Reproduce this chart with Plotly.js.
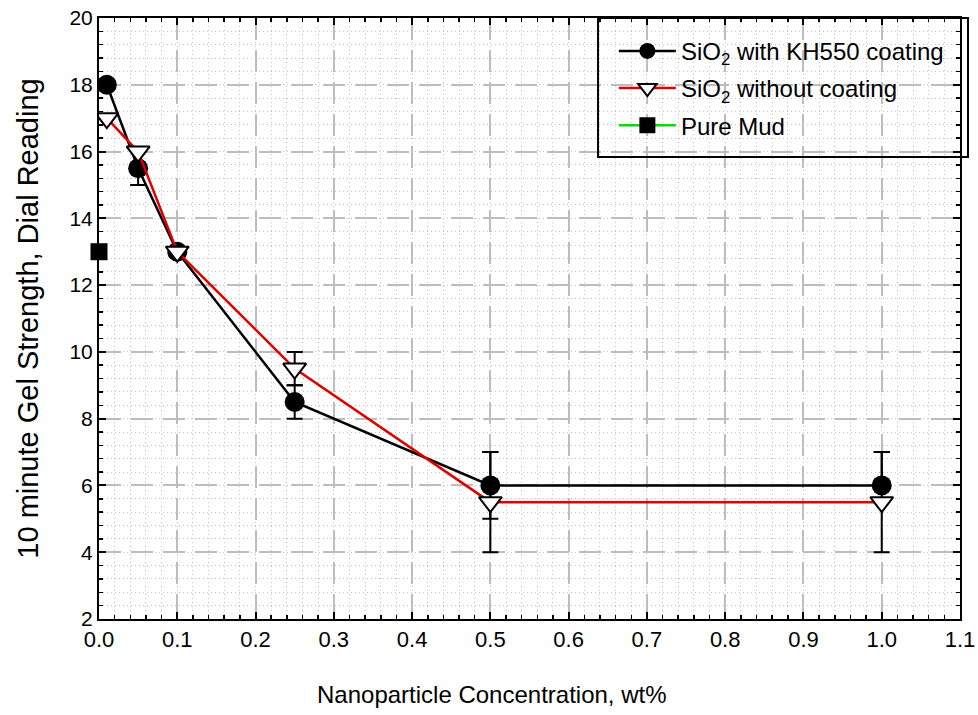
<!DOCTYPE html>
<html>
<head>
<meta charset="utf-8">
<script src="https://cdn.plot.ly/plotly-3.0.1.min.js"></script>
<style>html,body{margin:0;padding:0;background:#fff;}</style>
</head>
<body>
<div id="chart" style="width:978px;height:715px;"></div>
<script>
// ---- data ----
const concentration = [0.01, 0.05, 0.1, 0.25, 0.5, 1.0];
const coatedGel = [18, 15.5, 13, 8.5, 6, 6];
const coatedErrPlus = [0, 0.5, 0, 0.5, 1, 1];
const coatedErrMinus = [0, 0.5, 0, 0.5, 1, 0];
const uncoatedGel = [17, 16, 13, 9.5, 5.5, 5.5];
const uncoatedErrPlus = [0, 0, 0, 0.5, 1.5, 1.5];
const uncoatedErrMinus = [0, 0, 0, 0.5, 1.5, 1.5];
const pureMudX = [0];
const pureMudGel = [13];
const seriesNames = ['SiO<sub>2</sub> with KH550 coating', 'SiO<sub>2</sub> without coating', 'Pure Mud'];
const xTickVals = [0, 0.1, 0.2, 0.3, 0.4, 0.5, 0.6, 0.7, 0.8, 0.9, 1.0, 1.1];
const yTickVals = [2, 4, 6, 8, 10, 12, 14, 16, 18, 20];
const xTitle = 'Nanoparticle Concentration, wt%';
const yTitle = '10 minute Gel Strength, Dial Reading';

const sans = 'Liberation Sans, Arial, sans-serif';

const traces = [
  {
    x: concentration, y: coatedGel, name: seriesNames[0], legendgroup: 'a',
    mode: 'lines+markers', type: 'scatter',
    line: {color: '#000000', width: 2.5},
    marker: {symbol: 'circle', size: 20, color: '#000000'},
    error_y: {type: 'data', symmetric: false, array: coatedErrPlus, arrayminus: coatedErrMinus,
              color: '#000000', thickness: 2, width: 8}
  },
  {
    x: concentration, y: uncoatedGel, name: seriesNames[1], legendgroup: 'b',
    mode: 'lines+markers', type: 'scatter',
    line: {color: '#e00000', width: 2.5},
    marker: {symbol: 'triangle-down', size: 20, color: '#ffffff', line: {color: '#000000', width: 2}},
    error_y: {type: 'data', symmetric: false, array: uncoatedErrPlus, arrayminus: uncoatedErrMinus,
              color: '#000000', thickness: 2, width: 8}
  },
  {
    x: pureMudX, y: pureMudGel, name: seriesNames[2], legendgroup: 'c',
    mode: 'lines+markers', type: 'scatter',
    line: {color: '#00e000', width: 2.5},
    marker: {symbol: 'square', size: 17, color: '#000000'},
    cliponaxis: false
  }
];

const axisCommon = {
  showline: true, linecolor: '#000000', linewidth: 2, mirror: 'allticks',
  ticks: 'inside', ticklen: 7, tickwidth: 2, tickcolor: '#000000',
  showgrid: true, gridcolor: '#bdbdbd', gridwidth: 2, griddash: '22px,10px',
  zeroline: false
};

const layout = {
  width: 978, height: 715,
  margin: {l: 99, r: 18, t: 18, b: 96},
  paper_bgcolor: '#ffffff', plot_bgcolor: '#ffffff',
  showlegend: true,
  xaxis: Object.assign({}, axisCommon, {
    range: [0, 1.1], tickvals: xTickVals, tickformat: '.1f',
    tickfont: {family: sans, size: 22, color: '#000000'},
    minor: {dtick: 0.02, ticks: 'inside', ticklen: 4, tickwidth: 1.5, tickcolor: '#000000',
            showgrid: true, gridcolor: '#c4c4c4', gridwidth: 1, griddash: '1px,3px'}
  }),
  yaxis: Object.assign({}, axisCommon, {
    range: [2, 20], tickvals: yTickVals,
    tickfont: {family: sans, size: 21, color: '#000000'},
    minor: {dtick: 0.4, ticks: 'inside', ticklen: 4, tickwidth: 1.5, tickcolor: '#000000',
            showgrid: true, gridcolor: '#c4c4c4', gridwidth: 1, griddash: '1px,3px'},
    title: {text: yTitle, font: {family: sans, size: 29, color: '#000000'}, standoff: 22}
  }),
  annotations: [
    {text: xTitle, xref: 'paper', yref: 'paper', x: 0.4564, y: -0.1, xanchor: 'center', yanchor: 'top',
     showarrow: false, font: {family: sans, size: 24, color: '#000000'}}
  ],
  legend: {
    x: 0.598, y: 0.982, xanchor: 'left', yanchor: 'top',
    bgcolor: 'rgba(0,0,0,0)', borderwidth: 0,
    font: {family: sans, size: 24, color: '#000000'},
    itemwidth: 57, tracegroupgap: 3, traceorder: 'grouped'
  },
  shapes: [
    {type: 'rect', xref: 'paper', yref: 'paper', x0: 0.5796, x1: 1.0093, y0: 0.7687, y1: 1.0,
     line: {color: '#000000', width: 2}, fillcolor: 'rgba(0,0,0,0)'}
  ]
};

Plotly.newPlot('chart', traces, layout, {displayModeBar: false, staticPlot: true});
</script>
</body>
</html>
